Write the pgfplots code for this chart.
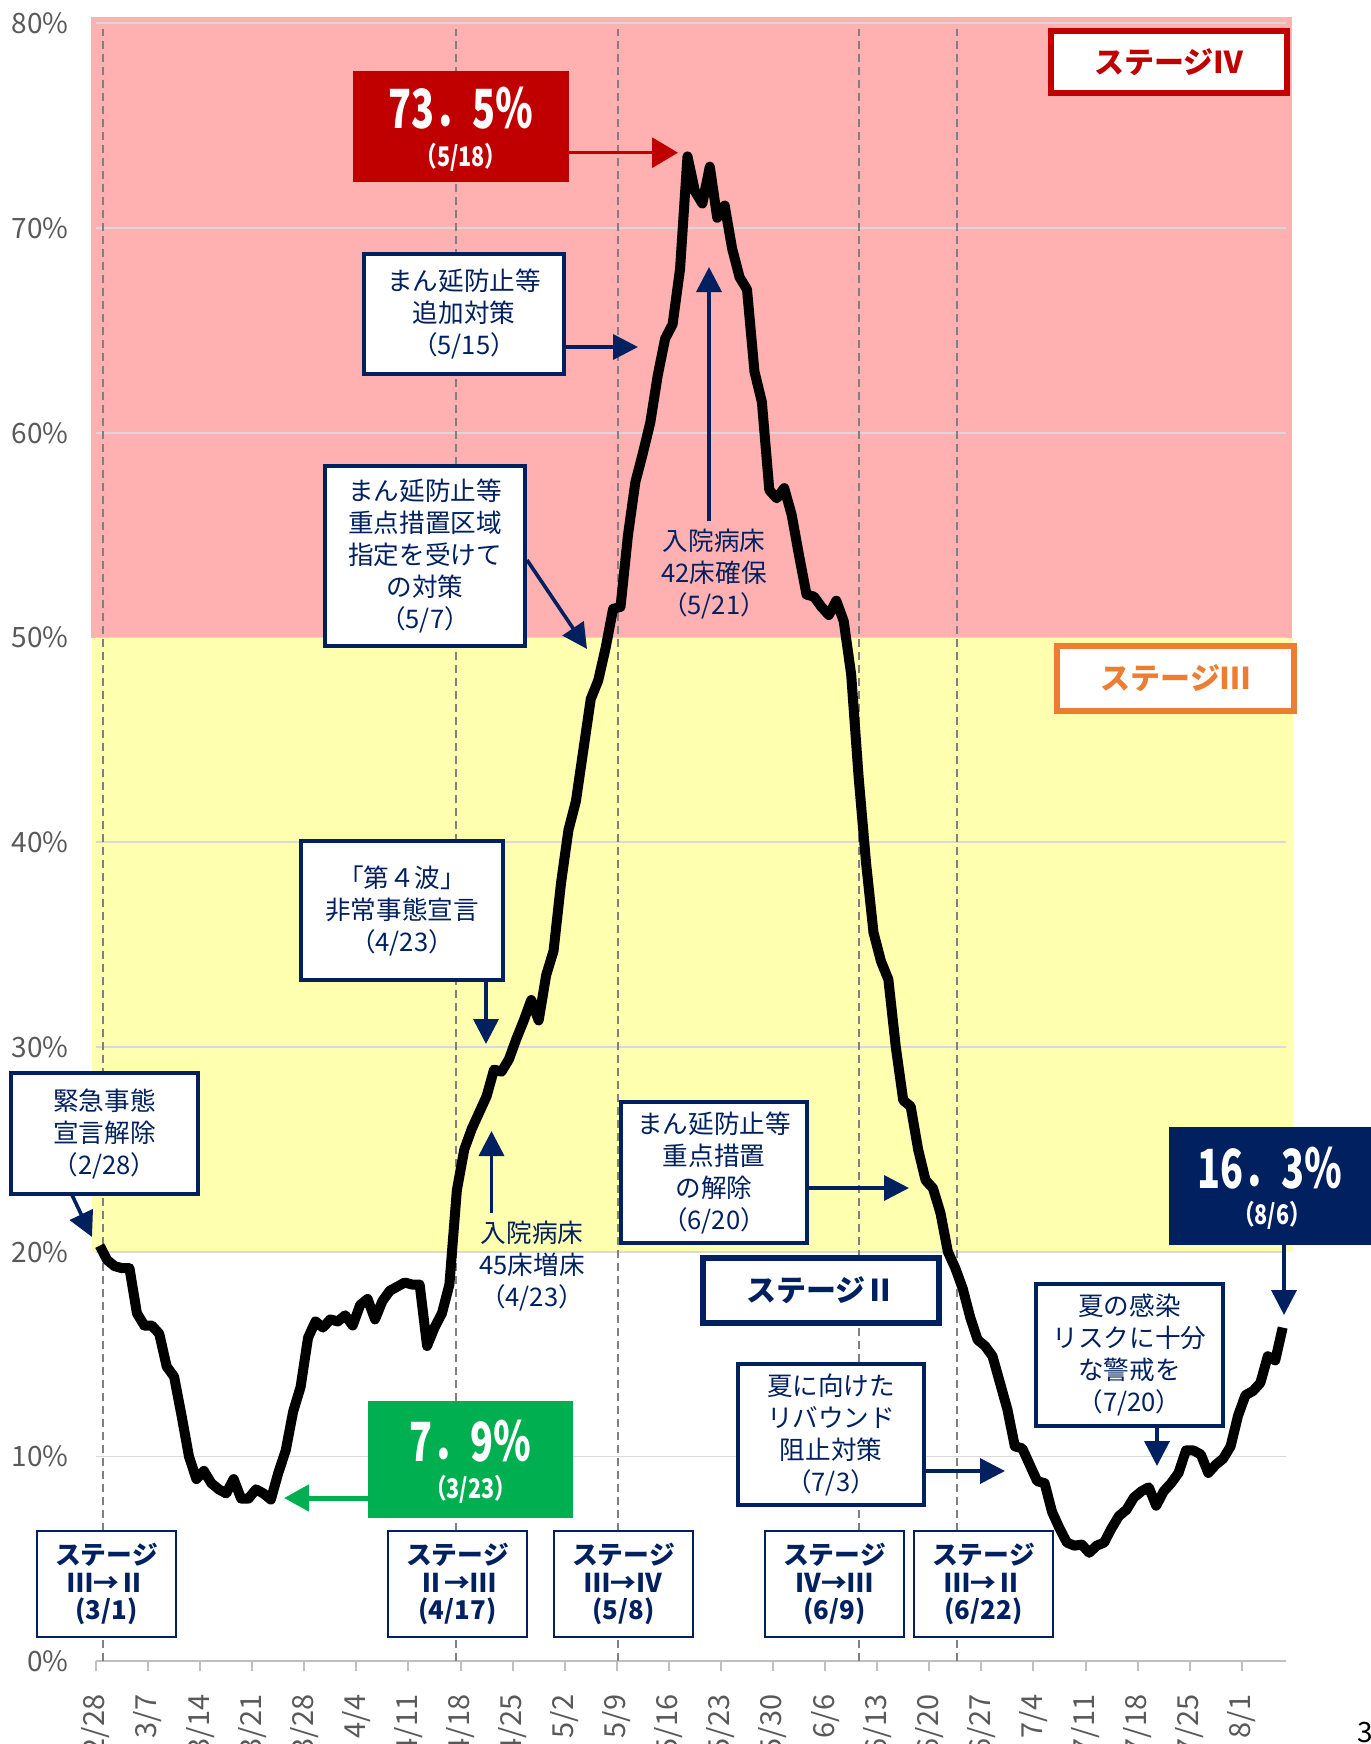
\documentclass[border=0pt]{standalone}
\usepackage{pgfplots}
\pgfplotsset{compat=1.18}
\usepackage{pgfplotstable}
\usepackage{fontspec}
\usepackage{graphicx}
\setmainfont{Noto Sans CJK JP}
\usetikzlibrary{arrows.meta}
\definecolor{navy}{HTML}{002060}
\definecolor{pinkz}{HTML}{FFB0B0}
\definecolor{yellz}{HTML}{FFFFB0}
\definecolor{redz}{HTML}{C00000}
\definecolor{greenz}{HTML}{00B050}
\definecolor{orangez}{HTML}{ED7D31}
\definecolor{gridc}{HTML}{D9D9D9}
\definecolor{dashc}{HTML}{808080}
\definecolor{tickc}{HTML}{595959}
\definecolor{axc}{HTML}{BFBFBF}

\pgfplotstableread{
d v
0 20.3
1 19.6
2 19.3
3 19.2
4 19.2
5 17.0
6 16.4
7 16.4
8 16.0
9 14.4
10 13.9
11 12.0
12 10.0
13 8.9
14 9.3
15 8.7
16 8.4
17 8.2
18 8.9
19 7.95
20 7.95
21 8.4
22 8.2
23 7.9
24 9.2
25 10.3
26 12.2
27 13.4
28 15.8
29 16.6
30 16.3
31 16.7
32 16.6
33 16.9
34 16.4
35 17.4
36 17.7
37 16.7
38 17.6
39 18.1
40 18.3
41 18.5
42 18.4
43 18.4
44 15.4
45 16.3
46 17.0
47 18.4
48 23.0
49 25.0
50 26.0
51 26.8
52 27.6
53 28.9
54 28.8
55 29.4
56 30.4
57 31.3
58 32.3
59 31.3
60 33.5
61 34.7
62 38.0
63 40.6
64 42.0
65 44.5
66 47.0
67 47.9
68 49.5
69 51.4
70 51.5
71 55.0
72 57.6
73 59.0
74 60.5
75 62.8
76 64.6
77 65.3
78 68.0
79 73.5
80 71.8
81 71.2
82 73.0
83 70.5
84 71.1
85 69.0
86 67.6
87 67.0
88 63.0
89 61.5
90 57.2
91 56.8
92 57.3
93 56.0
94 54.0
95 52.1
96 52.0
97 51.5
98 51.1
99 51.8
100 50.8
101 48.2
102 43.2
103 39.0
104 35.6
105 34.2
106 33.3
107 30.0
108 27.4
109 27.1
110 25.0
111 23.5
112 23.1
113 21.9
114 20.0
115 19.2
116 18.2
117 16.8
118 15.7
119 15.4
120 14.9
121 13.6
122 12.3
123 10.5
124 10.4
125 9.6
126 8.8
127 8.7
128 7.3
129 6.5
130 5.8
131 5.65
132 5.7
133 5.3
134 5.65
135 5.8
136 6.5
137 7.1
138 7.4
139 8.0
140 8.3
141 8.5
142 7.6
143 8.3
144 8.7
145 9.2
146 10.3
147 10.3
148 10.1
149 9.2
150 9.6
151 9.9
152 10.5
153 12.0
154 13.0
155 13.2
156 13.6
157 14.9
158 14.7
159 16.3
}\datatable

\tikzset{
 nbox/.style={draw=navy, line width=1.7pt, fill=white},
 ntext/.style={text=navy, align=center, font=\fontsize{12.8pt}{16pt}\selectfont, inner sep=0pt},
 sbox/.style={draw=navy, line width=1.1pt, fill=white},
 stext/.style={text=navy, align=center, font=\fontsize{12.9pt}{13.8pt}\selectfont\bfseries, inner sep=0pt},
 narrow/.style={navy, line width=1.8pt, -{Triangle[length=12.5pt,width=12.5pt]}},
}

\begin{document}
\begin{tikzpicture}[x=0.5pt,y=-0.5pt]
\useasboundingbox (0,0) rectangle (1370,1744);
\begin{axis}[
  at={(48pt,-830.65pt)}, anchor=south west,
  scale only axis, width=595.2pt, height=819pt,
  xmin=0, xmax=160, ymin=0, ymax=80,
  clip=false,
  axis x line*=bottom, axis y line*=left,
  every outer x axis line/.append style={-},
  every outer y axis line/.append style={-},
  x axis line style={axc, line width=1pt, -},
  y axis line style={draw=none, -},
  xtick={0,7,...,154},
  xticklabels={2/28,3/7,3/14,3/21,3/28,4/4,4/11,4/18,4/25,5/2,5/9,5/16,5/23,5/30,6/6,6/13,6/20,6/27,7/4,7/11,7/18,7/25,8/1},
  x tick style={axc, line width=1pt},
  tick align=outside,
  major tick length=5pt,
  ytick={0,10,...,80},
  yticklabels={0\%,10\%,20\%,30\%,40\%,50\%,60\%,70\%,80\%},
  y tick style={draw=none},
  xticklabel style={font=\fontsize{14.5pt}{14.5pt}\selectfont, text=tickc, yshift=-11.5pt, rotate=90, anchor=east, inner sep=0pt},
  yticklabel style={font=\fontsize{14pt}{14pt}\selectfont, text=tickc, anchor=east, xshift=-8.5pt, inner sep=0pt},
]
\fill[pinkz] (axis cs:-0.65,50) rectangle (axis cs:160.8,80.3);
\fill[yellz] (axis cs:-0.6,20) rectangle (axis cs:160.9,50);
\pgfplotsinvokeforeach{10,20,30,40,50,60,70,80}{\draw[gridc, line width=0.9pt] (axis cs:0,#1) -- (axis cs:160,#1);}
\pgfplotsinvokeforeach{1.0,48.4,70.1,102.5,115.7}{\draw[dashc, line width=1pt, dash pattern=on 4pt off 2.5pt] (axis cs:#1,0) -- (axis cs:#1,79.7);}
\addplot[black, line width=5pt, line join=round, no marks] table[x expr=\thisrow{d}+0.5, y=v]{\datatable};
\end{axis}

% stage labels
\draw[redz, line width=3.2pt, fill=white] (1051,31) rectangle (1287,93);
\node[text=redz, font=\fontsize{15pt}{15pt}\selectfont\bfseries] at (1169,62) {ステージⅣ};
\draw[orangez, line width=3.2pt, fill=white] (1057,646) rectangle (1294,711);
\node[text=orangez, font=\fontsize{15pt}{15pt}\selectfont\bfseries] at (1175.5,678.5) {ステージⅢ};
\draw[navy, line width=3.2pt, fill=white] (703,1258) rectangle (939,1323);
\node[text=navy, font=\fontsize{15pt}{15pt}\selectfont\bfseries] at (821,1290.5) {ステージⅡ};

% value boxes
\fill[redz] (353,71) rectangle (569,182);
\node[text=white, inner sep=0pt] at (461,108) {\scalebox{0.7}[1]{\fontsize{27pt}{27pt}\selectfont\bfseries 73．5％}};
\node[text=white, inner sep=0pt] at (461,157) {\scalebox{0.8}[1]{\fontsize{13.5pt}{13.5pt}\selectfont\bfseries （5/18）}};
\draw[redz, line width=1.8pt, -{Triangle[length=13pt,width=15pt]}] (569,152.7) -- (678,152.7);

\fill[greenz] (368,1401) rectangle (573,1518);
\node[text=white, inner sep=0pt] at (470.5,1441) {\scalebox{0.7}[1]{\fontsize{27pt}{27pt}\selectfont\bfseries 7．9％}};
\node[text=white, inner sep=0pt] at (470.5,1489) {\scalebox{0.8}[1]{\fontsize{13.5pt}{13.5pt}\selectfont\bfseries （3/23）}};
\draw[greenz, line width=2.5pt, -{Triangle[length=12.5pt,width=13pt]}] (368,1498) -- (284,1498);

\fill[navy] (1169,1127) rectangle (1380,1245);
\node[text=white, inner sep=0pt] at (1270,1168) {\scalebox{0.7}[1]{\fontsize{27pt}{27pt}\selectfont\bfseries 16．3％}};
\node[text=white, inner sep=0pt] at (1272,1215) {\scalebox{0.8}[1]{\fontsize{13.5pt}{13.5pt}\selectfont\bfseries （8/6）}};
\draw[narrow] (1284,1245) -- (1284,1315);

% annotation boxes
\draw[nbox] (11,1073) rectangle (198,1194);
\node[ntext] at (104.5,1133.5) {緊急事態\\宣言解除\\（2/28）};
\draw[narrow] (72,1195) -- (92,1237);

\draw[nbox] (301,841) rectangle (503,980);
\node[ntext] at (402,910.5) {「第４波」\\非常事態宣言\\（4/23）};
\draw[narrow] (486,980) -- (486,1044);

\node[ntext] at (532,1266) {入院病床\\45床増床\\（4/23）};
\draw[narrow] (491.5,1213) -- (491.5,1131);

\draw[nbox] (325,466) rectangle (525,646);
\node[ntext] at (425,556) {まん延防止等\\重点措置区域\\指定を受けて\\の対策\\（5/7）};
\draw[narrow] (527,560) -- (587,649);

\draw[nbox] (364,254) rectangle (564,374);
\node[ntext] at (464,314) {まん延防止等\\追加対策\\（5/15）};
\draw[narrow] (564,347) -- (638,347);

\node[ntext] at (714,574.5) {入院病床\\42床確保\\（5/21）};
\draw[narrow] (709,521) -- (709,267);

\draw[nbox] (621,1102) rectangle (807,1243);
\node[ntext] at (714,1172.5) {まん延防止等\\重点措置\\の解除\\（6/20）};
\draw[narrow] (807,1188) -- (909,1188);

\draw[nbox] (738,1364) rectangle (924,1505);
\node[ntext] at (831,1434.5) {夏に向けた\\リバウンド\\阻止対策\\（7/3）};
\draw[narrow] (924,1471) -- (1005,1471);

\draw[nbox] (1036,1284) rectangle (1223,1426);
\node[ntext] at (1129.5,1355) {夏の感染\\リスクに十分\\な警戒を\\（7/20）};
\draw[narrow] (1157,1426) -- (1157,1466);

% stage transition boxes
\draw[sbox] (37,1531) rectangle (176,1637);
\node[stext] at (106.5,1584) {ステージ\\Ⅲ→Ⅱ\\(3/1)};
\draw[sbox] (388,1531) rectangle (527,1637);
\node[stext] at (457.5,1584) {ステージ\\Ⅱ→Ⅲ\\(4/17)};
\draw[sbox] (554,1531) rectangle (693,1637);
\node[stext] at (623.5,1584) {ステージ\\Ⅲ→Ⅳ\\(5/8)};
\draw[sbox] (765,1531) rectangle (904,1637);
\node[stext] at (834.5,1584) {ステージ\\Ⅳ→Ⅲ\\(6/9)};
\draw[sbox] (914,1531) rectangle (1053,1637);
\node[stext] at (983.5,1584) {ステージ\\Ⅲ→Ⅱ\\(6/22)};

\node[anchor=north west, inner sep=0pt, font=\fontsize{14pt}{14pt}\selectfont] at (1357,1722) {3};
\end{tikzpicture}
\end{document}
